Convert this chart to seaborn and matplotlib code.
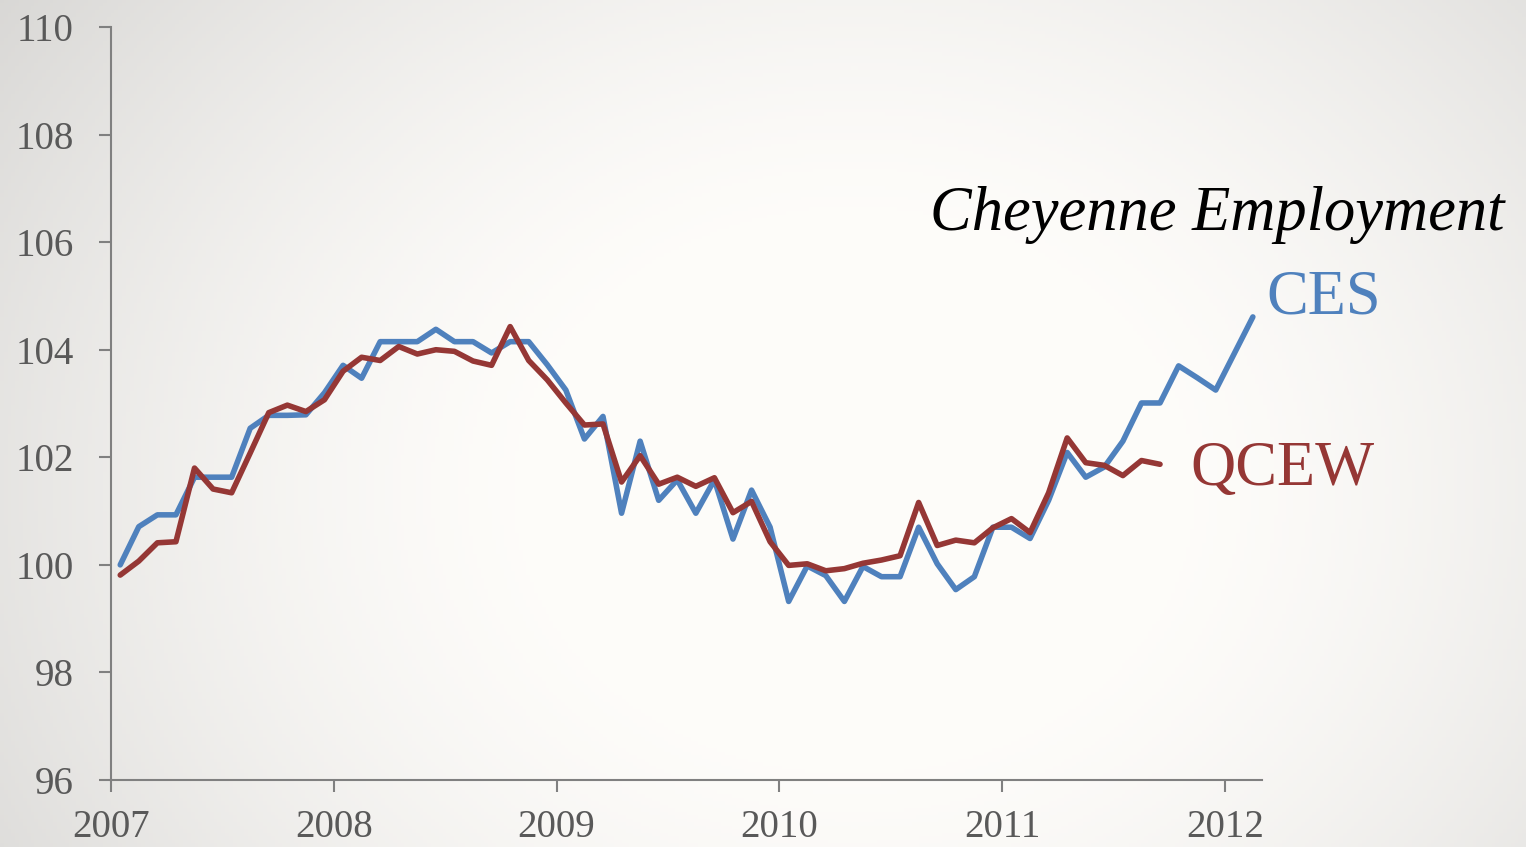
import numpy as np
import pandas as pd
import matplotlib
matplotlib.use("Agg")
import matplotlib.pyplot as plt
import seaborn as sns

# ---------------
# Data (monthly index, Jan 2007 = 100)
# ---------------
start_year = 2007
ces = [100.0, 100.71, 100.93, 100.93, 101.63, 101.63, 101.63, 102.54, 102.78, 102.78,
       102.79, 103.2, 103.71, 103.47, 104.15, 104.15, 104.15, 104.38, 104.15, 104.15,
       103.94, 104.15, 104.15, 103.72, 103.25, 102.34, 102.76, 100.96, 102.3, 101.2,
       101.58, 100.96, 101.58, 100.48, 101.39, 100.7, 99.32, 99.98, 99.8, 99.32,
       99.97, 99.78, 99.78, 100.7, 100.02, 99.54, 99.78, 100.7, 100.7, 100.49,
       101.2, 102.09, 101.63, 101.82, 102.3, 103.01, 103.01, 103.7, 103.48, 103.25,
       103.93, 104.61]
qcew = [99.81, 100.07, 100.41, 100.43, 101.8, 101.41, 101.34, 102.08, 102.83, 102.97,
        102.85, 103.07, 103.6, 103.86, 103.8, 104.06, 103.92, 104.0, 103.97, 103.79,
        103.71, 104.43, 103.8, 103.44, 103.01, 102.6, 102.62, 101.54, 102.03, 101.5,
        101.63, 101.46, 101.62, 100.97, 101.18, 100.43, 99.99, 100.02, 99.89, 99.93,
        100.03, 100.09, 100.17, 101.16, 100.36, 100.46, 100.41, 100.69, 100.86, 100.6,
        101.34, 102.36, 101.9, 101.85, 101.66, 101.94, 101.87]
year_ticks = [2007, 2008, 2009, 2010, 2011, 2012]
y_ticks = [96, 98, 100, 102, 104, 106, 108, 110]

ces_df = pd.DataFrame({"year": start_year + (np.arange(len(ces)) + 0.5) / 12, "value": ces})
qcew_df = pd.DataFrame({"year": start_year + (np.arange(len(qcew)) + 0.5) / 12, "value": qcew})

blue = "#4f81bd"
red = "#953735"
grey = "#808080"

sns.set_theme(style="white")
plt.rcParams["font.family"] = ["Liberation Serif", "DejaVu Serif"]

fig = plt.figure(figsize=(15.26, 8.47), dpi=100)

# vignette background
bg = fig.add_axes([0, 0, 1, 1], zorder=-5)
gx, gy = np.meshgrid(np.linspace(0, 1, 400), np.linspace(0, 1, 240))
r = np.sqrt(((gx - 0.56) / 0.6) ** 2 + ((gy - 0.42) / 0.9) ** 2)
shade = 0.995 - 0.2 * np.clip(r - 0.33, 0, None) ** 1.5
shade = np.clip(shade, 0.84, 1.0)
img = np.dstack([shade, shade * 0.995, shade * 0.985])
bg.imshow(img, extent=[0, 1, 0, 1], aspect="auto", origin="lower")
bg.axis("off")

ax = fig.add_axes([0.0727, 0.0791, 0.827 - 0.0727, 0.9681 - 0.0791])
ax.set_facecolor("none")

sns.lineplot(data=ces_df, x="year", y="value", color=blue, linewidth=4.0, ax=ax)
sns.lineplot(data=qcew_df, x="year", y="value", color=red, linewidth=4.0, ax=ax)

ax.set_xlim(2007, 2012.166)
ax.set_ylim(96, 110)
ax.set_xticks(year_ticks)
ax.set_yticks(y_ticks)
ax.set_xlabel("")
ax.set_ylabel("")

sns.despine(ax=ax)
for side in ["left", "bottom"]:
    ax.spines[side].set_color(grey)
    ax.spines[side].set_linewidth(1.5)
ax.tick_params(axis="both", direction="out", length=8.6, width=1.5, color=grey,
               labelsize=28, labelcolor="#595959")
ax.tick_params(axis="y", pad=18, left=True)
ax.tick_params(axis="x", pad=12, bottom=True)

ax.text(2012.184, 104.68, "CES", color=blue, fontsize=45, va="baseline", clip_on=False)
ax.text(2011.843, 101.49, "QCEW", color=red, fontsize=45, va="baseline", clip_on=False)
fig.text(0.986, 0.7285, "Cheyenne Employment", style="italic", color="black",
         fontsize=45, ha="right", va="baseline")

fig.savefig("out.png", dpi=100)
